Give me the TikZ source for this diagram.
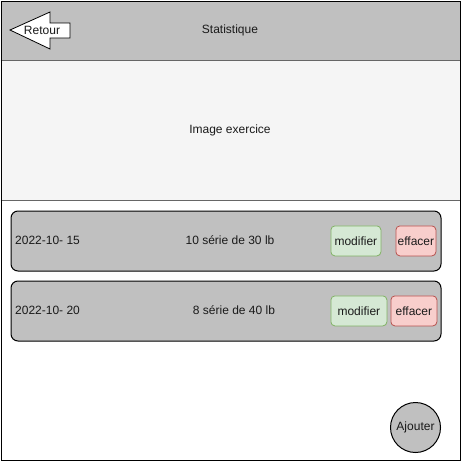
\documentclass[tikz,border=0pt]{standalone}
\usepackage{fontspec}
\setmainfont{Liberation Sans}
\definecolor{hdr}{HTML}{C0C0C0}
\definecolor{imgfill}{HTML}{F5F5F5}
\definecolor{imgline}{HTML}{666666}
\definecolor{gfill}{HTML}{D5E8D4}
\definecolor{gline}{HTML}{82B366}
\definecolor{rfill}{HTML}{F8CECC}
\definecolor{rline}{HTML}{B85450}
\definecolor{txt}{HTML}{1A1A1A}
\tikzset{
  lbl/.style={font=\fontsize{12}{14}\selectfont, inner sep=0pt, text=txt},
  rowbox/.style={draw=black, fill=hdr, rounded corners=7pt, line width=1pt},
  modbtn/.style={draw=gline, fill=gfill, rounded corners=4pt, line width=0.8pt, lbl},
  effbtn/.style={draw=rline, fill=rfill, rounded corners=4pt, line width=0.8pt, lbl},
}
\begin{document}
\begin{tikzpicture}[x=1pt,y=-1pt]
\useasboundingbox (0,0) rectangle (461,461);
% header
\path[fill=hdr] (0.5,0.5) rectangle (460,60.5);
% image
\path[fill=imgfill] (0.5,60.5) rectangle (460,200.5);
\draw[imgline, line width=0.8pt] (0.5,60.5) -- (460,60.5);
\draw[imgline, line width=0.8pt] (0.5,200.5) -- (460,200.5);
% outer frame
\node[draw=black, line width=1pt, minimum width=459.5pt, minimum height=459.5pt, inner sep=0pt, anchor=north west] (frame) at (0.5,0.5) {};
\node[lbl] (title) at (230,30) {Statistique};
% back arrow
\draw[fill=white, draw=black, line width=0.8pt] (10,30) -- (50,12) -- (50,23) -- (70,23) -- (70,38) -- (50,38) -- (50,49) -- cycle;
\coordinate (arrowc) at (42,30);
\node[lbl] (retour) at (arrowc) {Retour};
\node[lbl] (imgtxt) at (230,130) {Image exercice};
% row 1
\node[rowbox, minimum width=430pt, minimum height=60pt, inner sep=0pt, anchor=north west] (row1) at (10.5,210.5) {};
\node[lbl, anchor=west] (d1) at (15,240) {2022-10- 15};
\node[lbl] (s1) at (230,240) {10 série de 30 lb};
\node[modbtn, minimum width=50pt, minimum height=30pt, anchor=north west] (m1) at (330.5,225.5) {modifier};
\node[effbtn, minimum width=40pt, minimum height=30pt, anchor=north west] (e1) at (395.5,225.5) {effacer};
% row 2
\node[rowbox, minimum width=430pt, minimum height=60pt, inner sep=0pt, anchor=north west] (row2) at (10.5,280.5) {};
\node[lbl, anchor=west] (d2) at (15,310) {2022-10- 20};
\node[lbl] (s2) at (234,310) {8 série de 40 lb};
\node[modbtn, minimum width=56pt, minimum height=30pt, anchor=north west] (m2) at (330.5,295.5) {modifier};
\node[effbtn, minimum width=46pt, minimum height=30pt, anchor=north west] (e2) at (390.5,295.5) {effacer};
% ajouter
\node[circle, draw=black, fill=hdr, line width=1pt, minimum size=50pt, inner sep=0pt, lbl] (add) at (415.5,427.5) {Ajouter};
\end{tikzpicture}
\end{document}
